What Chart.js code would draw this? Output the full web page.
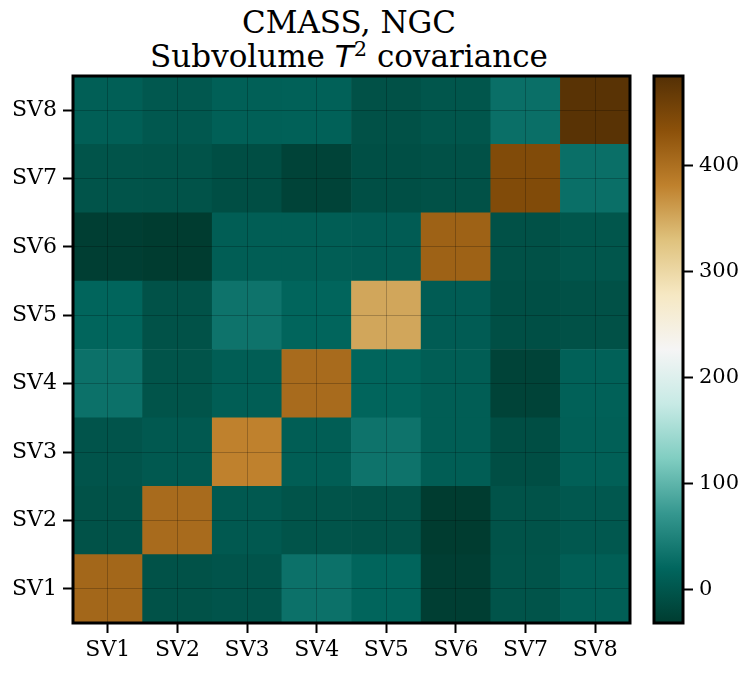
<!DOCTYPE html>
<html>
<head>
    <title>Subvolume T2 covariance</title>
    <script src="https://cdn.jsdelivr.net/npm/chart.js"></script>
    <style>
        body {
            margin: 0;
            background-color: white;
            width: 748px;
            height: 673px;
            overflow: hidden;
            position: relative;
        }
        .title {
            position: absolute;
            left: 0;
            width: 698px;
            top: 0;
            text-align: center;
            font-family: "DejaVu Serif", serif;
            font-size: 31px;
            line-height: 34px;
            padding-top: 5px;
            color: #000;
        }
        .title i {
            font-family: "DejaVu Sans", sans-serif;
        }
        .title sup {
            font-size: 21px;
            vertical-align: 11px;
            line-height: 0;
        }
        #heatWrap {
            position: absolute;
            left: 0;
            top: 0;
            width: 640px;
            height: 673px;
        }
        #barWrap {
            position: absolute;
            left: 600px;
            top: 0;
            width: 148px;
            height: 673px;
        }
    </style>
</head>
<body>
    <div class="title">CMASS, NGC<br>Subvolume <i>T</i><sup>2</sup> covariance</div>

    <div id="heatWrap"><canvas id="heatChart"></canvas></div>
    <div id="barWrap"><canvas id="cbarChart"></canvas></div>

    <script>
        // Subvolume labels
        const labels = ['SV1', 'SV2', 'SV3', 'SV4', 'SV5', 'SV6', 'SV7', 'SV8'];

        // Covariance rows, SV1 (bottom) .. SV8 (top), columns SV1..SV8
        const rowSV1 = [410, -5, -2, 31, 18, -29, -3, 11];
        const rowSV2 = [-5, 405, 4, -3, -5, -32, -4, 3];
        const rowSV3 = [-2, 4, 382, 10, 33, 10, -10, 12];
        const rowSV4 = [31, -3, 10, 405, 18, 10, -23, 13];
        const rowSV5 = [18, -5, 33, 18, 352, 8, -8, -6];
        const rowSV6 = [-29, -32, 10, 10, 8, 415, -6, 0];
        const rowSV7 = [-3, -4, -10, -23, -8, -6, 443, 29];
        const rowSV8 = [11, 3, 12, 13, -6, 0, 29, 480];
        const rows = [rowSV1, rowSV2, rowSV3, rowSV4, rowSV5, rowSV6, rowSV7, rowSV8];

        // Colour range
        const vmin = -32;
        const vmax = 485;
        const cbarTicks = [0, 100, 200, 300, 400];

        // BrBG colormap, reversed (dark green -> brown)
        const brbg = [
            [84, 48, 5], [140, 81, 10], [191, 129, 45], [223, 194, 125], [246, 232, 195],
            [245, 245, 245], [199, 234, 229], [128, 205, 193], [53, 151, 143], [1, 102, 94], [0, 60, 48]
        ];
        const brbgR = brbg.slice().reverse();

        function colorAt(t) {
            t = Math.min(1, Math.max(0, t));
            const pos = t * (brbgR.length - 1);
            const i = Math.min(brbgR.length - 2, Math.floor(pos));
            const f = pos - i;
            const a = brbgR[i], b = brbgR[i + 1];
            const c = a.map((v, k) => Math.round(v + (b[k] - v) * f));
            return 'rgb(' + c.join(',') + ')';
        }

        function valueColor(v) {
            return colorAt((v - vmin) / (vmax - vmin));
        }

        const axisFont = { family: '"DejaVu Serif", serif', size: 22 };
        const cbarFont = { family: '"DejaVu Serif", serif', size: 21 };

        // Black frame around the plot area
        const framePlugin = {
            id: 'frame',
            afterDraw(chart) {
                const { ctx, chartArea: a } = chart;
                ctx.save();
                ctx.strokeStyle = '#000';
                ctx.lineWidth = 3;
                ctx.strokeRect(a.left, a.top, a.right - a.left, a.bottom - a.top);
                ctx.restore();
            }
        };

        // Heatmap: one floating bar dataset per row
        const heatDatasets = rows.map((row, r) => ({
            label: labels[r],
            data: row.map(() => [r + 0.5, r + 1.5]),
            backgroundColor: row.map(v => valueColor(v)),
            borderWidth: 0,
            barPercentage: 1,
            categoryPercentage: 1,
            grouped: false
        }));

        new Chart(document.getElementById('heatChart'), {
            type: 'bar',
            data: { labels: labels, datasets: heatDatasets },
            options: {
                responsive: true,
                maintainAspectRatio: false,
                animation: false,
                layout: { padding: { top: 76, right: 10, left: 0, bottom: 0 } },
                plugins: {
                    legend: { display: false },
                    tooltip: { enabled: false }
                },
                scales: {
                    x: {
                        type: 'category',
                        offset: true,
                        border: { display: false },
                        grid: {
                            offset: false,
                            z: 1,
                            color: 'rgba(0,0,0,0.28)',
                            lineWidth: 0.8,
                            borderDash: [3, 2],
                            tickColor: '#000',
                            tickWidth: 2,
                            tickLength: 10
                        },
                        ticks: { color: '#000', font: axisFont, padding: 4, maxRotation: 0 },
                        afterFit(axis) { axis.height = 50; }
                    },
                    y: {
                        type: 'linear',
                        min: 0.5,
                        max: 8.5,
                        border: { display: false },
                        grid: {
                            z: 1,
                            color: 'rgba(0,0,0,0.28)',
                            lineWidth: 0.8,
                            borderDash: [3, 2],
                            tickColor: '#000',
                            tickWidth: 2,
                            tickLength: 10
                        },
                        ticks: {
                            color: '#000',
                            font: axisFont,
                            padding: 6,
                            callback: v => labels[v - 1]
                        },
                        afterBuildTicks(axis) {
                            axis.ticks = labels.map((l, i) => ({ value: i + 1 }));
                        },
                        afterFit(axis) { axis.width = 73; }
                    }
                }
            },
            plugins: [framePlugin]
        });

        // Colorbar: one floating bar filled with the colormap gradient
        function cbarGradient(context) {
            const chart = context.chart;
            const { chartArea, scales } = chart;
            if (!chartArea) return null;
            const y0 = scales.y.getPixelForValue(vmin);
            const y1 = scales.y.getPixelForValue(vmax);
            const g = chart.ctx.createLinearGradient(0, y0, 0, y1);
            brbgR.forEach((c, i) => {
                g.addColorStop(i / (brbgR.length - 1), 'rgb(' + c.join(',') + ')');
            });
            return g;
        }

        new Chart(document.getElementById('cbarChart'), {
            type: 'bar',
            data: {
                labels: [''],
                datasets: [{
                    data: [[vmin, vmax]],
                    backgroundColor: cbarGradient,
                    borderWidth: 0,
                    barPercentage: 1,
                    categoryPercentage: 1
                }]
            },
            options: {
                responsive: true,
                maintainAspectRatio: false,
                animation: false,
                layout: { padding: { top: 76, right: 0, left: 54, bottom: 50 } },
                plugins: {
                    legend: { display: false },
                    tooltip: { enabled: false }
                },
                scales: {
                    x: { display: false },
                    y: {
                        type: 'linear',
                        position: 'right',
                        min: vmin,
                        max: vmax,
                        border: { display: false },
                        grid: {
                            drawOnChartArea: false,
                            tickColor: '#000',
                            tickWidth: 2,
                            tickLength: 10
                        },
                        ticks: { color: '#000', font: cbarFont, padding: 6 },
                        afterBuildTicks(axis) {
                            axis.ticks = cbarTicks.map(v => ({ value: v }));
                        },
                        afterFit(axis) { axis.width = 65; }
                    }
                }
            },
            plugins: [framePlugin]
        });
    </script>
</body>
</html>
